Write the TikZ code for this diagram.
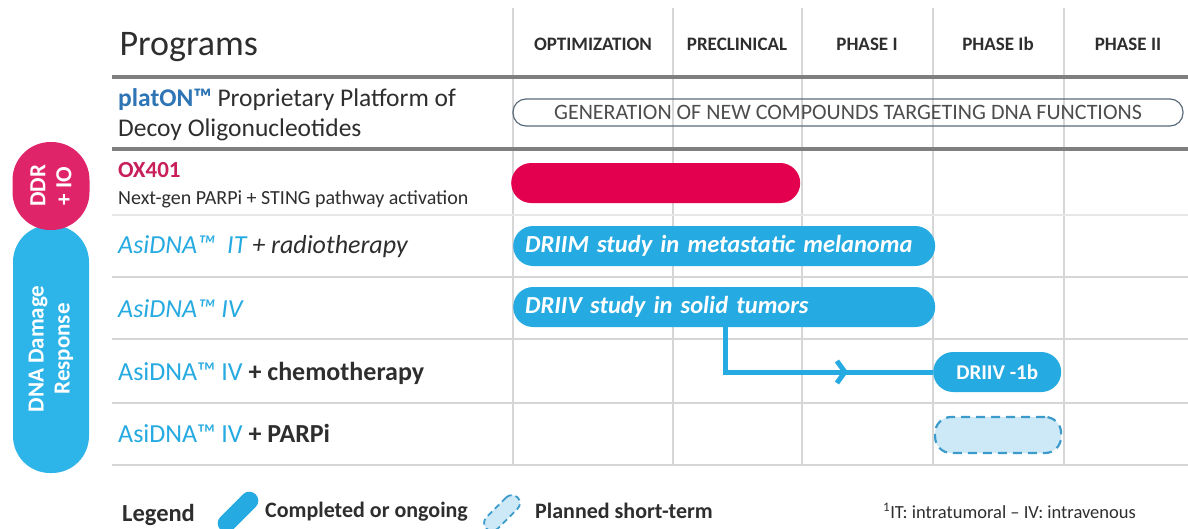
\documentclass[tikz,border=0pt]{standalone}
\usepackage{fontspec}
\setmainfont{Carlito}
\usetikzlibrary{positioning,arrows.meta}
\definecolor{cSky}{HTML}{25AAE1}
\definecolor{cTeal}{HTML}{2DB4E8}
\definecolor{cRose}{HTML}{E3004F}
\definecolor{cPink}{HTML}{E0246A}
\definecolor{cRuby}{HTML}{C81E5C}
\definecolor{cPlat}{HTML}{2E75B6}
\definecolor{cInk}{HTML}{2E2E2E}
\definecolor{cGrid}{HTML}{D6D6D6}
\definecolor{cRule}{HTML}{7F7F7F}
\definecolor{cIce}{HTML}{CDE9F7}
\definecolor{cSteel}{HTML}{3C9BCB}
\definecolor{cSlate}{HTML}{5A6B7E}
\newcommand{\fsz}[2]{\fontsize{#1}{#2}\selectfont}

\begin{document}
\begin{tikzpicture}[x=1pt,y=-1pt,
    hd/.style={font=\bfseries\fsz{19}{21},text=cInk,anchor=base},
    lbl/.style={font=\fsz{26}{28},text=cInk,anchor=base west,inner sep=0pt},
    bar/.style={fill=cSky,rounded corners=20pt,minimum height=40pt,inner sep=0pt,text=white},
    plan/.style={fill=cIce,draw=cSteel,line width=2.2pt,dash pattern=on 9pt off 6pt,rounded corners=16pt},
    tag/.style={text=white,font=\bfseries\fsz{23}{26},align=center,rotate=90,inner sep=0pt,rounded corners=37pt},
    flow/.style={cSky,line width=5pt}]
  \useasboundingbox[fill=white] (0,0) rectangle (1188,528);

  % grid
  \foreach \x in {513,673,802,933,1064}
    \draw[cGrid,line width=1.2pt] (\x,8) -- (\x,465);
  \draw[cGrid!60,line width=1.2pt] (112,215) -- (1188,215);
  \foreach \y in {277,339,403,465}
    \draw[cGrid,line width=1.5pt] (112,\y) -- (1188,\y);
  \foreach \y in {77,149}
    \draw[cRule,line width=4pt] (112,\y) -- (1188,\y);

  % header
  \node[anchor=base west,font=\fsz{36}{40},text=cInk] (prog) at (116,55) {Programs};
  \foreach \t/\x [count=\i] in {OPTIMIZATION/593,PRECLINICAL/737,PHASE I/867,PHASE Ib/998,PHASE II/1128}
    \node[hd] (ph\i) at (\x,50) {\t};

  % program names
  \node[lbl,font=\fsz{25.5}{28}] (plat1) at (118,106) {\textcolor{cPlat}{\bfseries platON™} Proprietary Platform of};
  \node[lbl,font=\fsz{25.5}{28}] (plat2) at (118,136) {Decoy Oligonucleotides};
  \node[lbl,text=cRuby,font=\bfseries\fsz{23}{26}] (ox) at (118,177) {OX401};
  \node[lbl,font=\fsz{20}{22}] (oxsub) at (118,204) {Next-gen PARPi + STING pathway activation};
  \node[lbl] (rIT) at (118,253) {\itshape\textcolor{cSky}{AsiDNA™\ \ IT} + radiotherapy};
  \node[lbl] (rIV) at (118,317) {\itshape\textcolor{cSky}{AsiDNA™ IV}};
  \node[lbl] (rCh) at (118,380) {\textcolor{cSky}{AsiDNA™ IV} \textbf{+ chemotherapy}};
  \node[lbl] (rPa) at (118,442) {\textcolor{cSky}{AsiDNA™ IV} \textbf{+ PARPi}};

  % side tags
  \node[tag,fill=cTeal,minimum width=248pt,minimum height=76pt] (dnaR) at (51,349) {DNA Damage\\Response};
  \node[tag,fill=cPink,minimum width=88pt,minimum height=77pt,rounded corners=38pt] (ddr) at (51,186) {DDR\\+ IO};

  % pipeline bars
  \node[draw=cSlate,line width=1.2pt,rounded corners=13pt,minimum width=670pt,minimum height=27pt,
        font=\fsz{22}{24},text=cInk!85] (gen) at (848,112.5) {GENERATION OF NEW COMPOUNDS TARGETING DNA FUNCTIONS};
  \node[bar,fill=cRose,minimum width=289pt,anchor=west] (oxb) at (511,183) {};
  \node[bar,minimum width=422pt,text width=398pt,inner xsep=12pt,align=left,anchor=west,
        font=\bfseries\itshape\fsz{24.5}{26}] (driim) at (513,246) {DRIIM study in metastatic melanoma};
  \node[bar,minimum width=422pt,text width=398pt,inner xsep=12pt,align=left,anchor=west,
        font=\bfseries\itshape\fsz{24.5}{26}] (driiv) at (513,307) {DRIIV study in solid tumors};
  \node[bar,minimum width=128pt,anchor=west,font=\bfseries\fsz{21}{23}] (b1b) at (933,372) {DRIIV -1b};
  \node[plan,minimum width=126pt,minimum height=36pt,anchor=west] (parp) at (934,435) {};

  \coordinate (brk) at (725,372);
  \coordinate (mid) at (848,372);
  \draw[flow] (driiv.south -| brk) |- (b1b.west);
  \draw[flow,-{Straight Barb[length=8pt,width=22pt]}] (brk) -- (mid);

  % legend
  \node[lbl,font=\bfseries\fsz{24.5}{26}] (leg) at (122,521) {Legend};
  \node[bar,rotate=45,minimum width=50pt,minimum height=18pt,rounded corners=9pt] (legOn) at (238,512) {};
  \node[lbl,font=\bfseries\fsz{22}{24}] (legOnT) at (265,517) {Completed or ongoing};
  \node[plan,rotate=45,minimum width=44pt,minimum height=16pt,rounded corners=8pt,line width=1.8pt,
        dash pattern=on 6pt off 4pt] (legPl) at (502,513) {};
  \node[lbl,font=\bfseries\fsz{22}{24}] (legPlT) at (535,518) {Planned short-term};
  \node[lbl,font=\fsz{18.5}{20}] (note) at (883,518) {\textsuperscript{1}IT: intratumoral -- IV: intravenous};
\end{tikzpicture}
\end{document}
